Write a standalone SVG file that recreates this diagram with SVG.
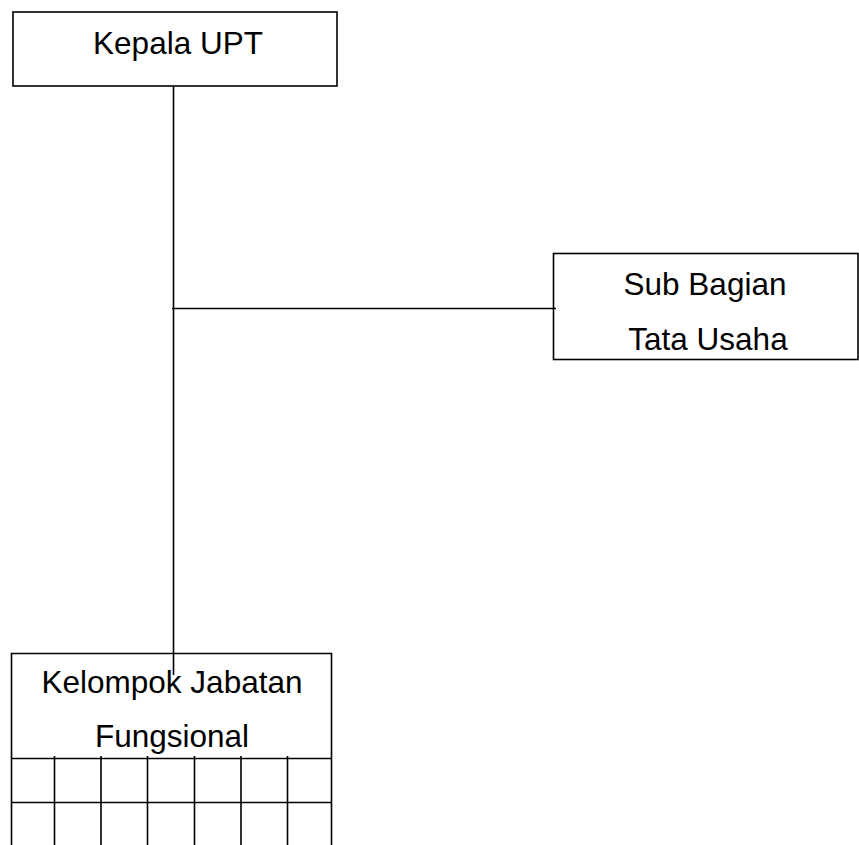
<svg xmlns="http://www.w3.org/2000/svg" width="859" height="845" viewBox="0 0 859 845">
<style>
.box{fill:#fff;stroke:#000;stroke-width:1.6}
.ln{stroke:#000;stroke-width:1.6;fill:none}
.t{font-family:"Liberation Sans",Arial,sans-serif;font-size:31.5px;fill:#000;text-anchor:middle}
</style>
<rect width="859" height="845" fill="#fff"/>
<g id="kepala">
<rect class="box" x="13" y="12" width="324" height="74"/>
<text class="t" x="178" y="54">Kepala UPT</text>
</g>
<g id="subbagian">
<rect class="box" x="553.5" y="253.5" width="304.5" height="106"/>
<text class="t" x="705" y="295">Sub Bagian</text>
<text class="t" x="708" y="350">Tata Usaha</text>
</g>
<g id="kelompok">
<path class="ln" d="M11.5 845V653.5H331.5V845"/>
<text class="t" x="172" y="693">Kelompok Jabatan</text>
<text class="t" x="172" y="747">Fungsional</text>
<path class="ln" d="M11.5 758.5H331.5M11.5 802.5H331.5M54.5 756V845M101 756V845M147.5 756V845M194.5 756V845M241 756V845M287.5 756V845"/>
</g>
<g id="connectors">
<path class="ln" d="M173.5 86V675M172 308.5H556"/>
</g>
</svg>
